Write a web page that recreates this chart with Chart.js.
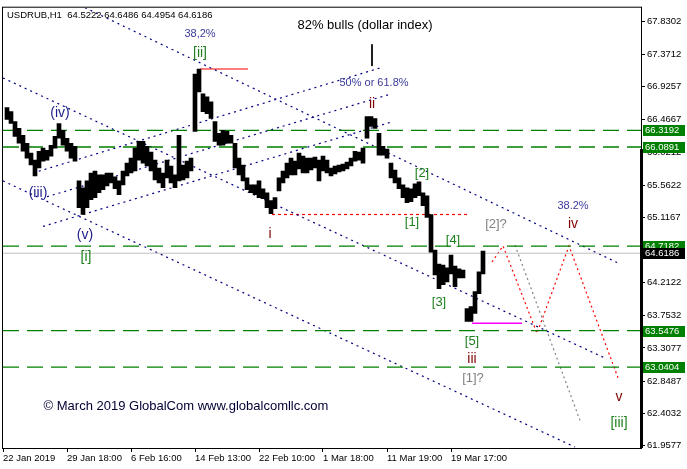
<!DOCTYPE html>
<html>
<head>
<meta charset="utf-8">
<script src="https://cdn.jsdelivr.net/npm/chart.js@4.4.1/dist/chart.umd.min.js"></script>
<style>
html, body { margin: 0; padding: 0; background: #fff; }
#wrap { width: 687px; height: 469px; position: relative; }
</style>
</head>
<body>
<div id="wrap"><canvas id="chart"></canvas></div>
<script>
// USDRUB H1 - price ranges, one entry every 4 hourly bars (bar 1 .. 120)
const highs = [
  66.634, 66.579, 66.442, 66.347, 66.251, 66.141, 66.004, 65.908, 66.031, 66.073,
  66.045, 66.114, 66.237, 66.415, 66.319, 66.210, 66.141, 66.100, 65.620, 65.525,
  65.620, 65.730, 65.757, 65.703, 65.703, 65.730, 65.730, 65.675, 65.620, 65.757,
  65.867, 65.936, 66.073, 66.168, 66.168, 66.100, 66.018, 65.908, 65.799, 65.730,
  65.908, 65.826, 65.703, 66.251, 65.840, 65.894, 65.936, 67.100, 67.169, 66.826,
  66.785, 66.716, 66.442, 66.278, 66.319, 66.305, 66.251, 66.141, 65.936, 65.840,
  65.662, 65.566, 65.566, 65.620, 65.511, 65.456, 65.346, 65.388, 65.662, 65.757,
  65.867, 65.936, 65.894, 66.004, 65.963, 65.936, 65.936, 65.949, 65.908, 65.963,
  65.908, 65.799, 65.826, 65.840, 65.853, 65.881, 65.936, 66.031, 66.018, 66.073,
  66.511, 66.511, 66.484, 66.278, 66.100, 66.059, 65.867, 65.771, 65.662, 65.566,
  65.525, 65.511, 65.579, 65.607, 65.456, 65.415, 65.155, 64.661, 64.470, 64.456,
  64.415, 64.593, 64.442, 64.401, 64.387, 63.853, 63.881, 64.086, 64.360, 64.649
];
const lows = [
  66.470, 66.415, 66.237, 66.141, 66.031, 65.936, 65.840, 65.689, 65.799, 65.894,
  65.908, 65.963, 66.073, 66.210, 66.114, 66.031, 65.936, 65.894, 65.251, 65.155,
  65.251, 65.360, 65.388, 65.456, 65.497, 65.552, 65.593, 65.511, 65.429, 65.566,
  65.689, 65.730, 65.757, 65.908, 65.867, 65.826, 65.757, 65.634, 65.593, 65.525,
  65.662, 65.593, 65.525, 65.620, 65.634, 65.662, 65.757, 66.305, 66.853, 66.579,
  66.552, 66.484, 66.168, 66.114, 66.114, 66.141, 66.141, 65.799, 65.703, 65.620,
  65.497, 65.456, 65.429, 65.388, 65.374, 65.251, 65.168, 65.237, 65.483, 65.593,
  65.662, 65.703, 65.703, 65.785, 65.730, 65.730, 65.771, 65.799, 65.620, 65.757,
  65.730, 65.689, 65.716, 65.744, 65.757, 65.785, 65.826, 65.894, 65.908, 65.867,
  66.210, 66.374, 66.347, 65.977, 65.977, 65.936, 65.662, 65.593, 65.511, 65.388,
  65.319, 65.333, 65.388, 65.415, 65.278, 65.114, 64.634, 64.319, 64.127, 64.182,
  64.223, 64.333, 64.155, 64.278, 64.278, 63.675, 63.675, 63.785, 64.059, 64.333
];

const timeTicks = [0, 16, 32, 48, 64, 80, 96, 112];
const timeLabels = ['22 Jan 2019', '29 Jan 18:00', '6 Feb 16:00', '14 Feb 13:00',
  '22 Feb 10:00', '1 Mar 18:00', '11 Mar 19:00', '19 Mar 17:00'];
const priceTicks = [67.8302, 67.3712, 66.9257, 66.4667, 66.0212, 65.5622, 65.1167,
  64.6577, 64.2122, 63.7532, 63.3077, 62.8487, 62.4032, 61.9577];

// horizontal levels
const greenLevels = [66.3192, 66.0891, 64.7182, 63.5476, 63.0404];
const bidPrice = 64.6186;

// trend lines: [bar, price] pairs
const channelTop = [[20.5, 68.018], [154.25, 64.470]];
const channelMid = [[0, 67.045], [151, 63.154]];
const channelLow = [[0, 65.620], [143, 61.935]];
const riseTop = [[7.5, 65.730], [95, 67.196]];
const riseMid = [[11, 65.401], [96.25, 66.812]];
const riseLow = [[10, 64.990], [96.75, 66.429]];
const grayPath = [[128, 64.730], [144.25, 62.305]];
const redPath = [[122.25, 64.497], [125, 64.72], [133.5, 63.511], [141.5, 64.72], [153.75, 62.894]];
const magentaLine = [[117.25, 63.648], [129.75, 63.648]];
const iiTopLine = [[49.25, 67.169], [61.25, 67.169]];
const iLevelLine = [[67.25, 65.155], [116, 65.155]];
const markerLine = [[92.25, 67.511], [92.25, 67.210]];

// wave labels: text, bar, price, colour, size
const NAVY = '#1c1c8a', PCT = '#3b3b9b', MAROON = '#800000', GREEN = '#1e801e', GRAY = '#808080';
const waveLabels = [
  ['38,2%', 49.25, 67.648, PCT, 11],
  ['[ii]', 49.25, 67.388, GREEN, 14],
  ['82% bulls (dollar index)', 90.5, 67.771, '#000000', 13],
  ['50% or 61.8%', 92.75, 66.977, PCT, 11],
  ['ii', 92.25, 66.689, MAROON, 14],
  ['(iv)', 14.25, 66.552, NAVY, 14],
  ['(iii)', 8.75, 65.456, NAVY, 14],
  ['(v)', 20.5, 64.867, NAVY, 14],
  ['[i]', 20.75, 64.566, GREEN, 14],
  ['i', 66.75, 64.881, MAROON, 14],
  ['[2]', 104.75, 65.730, GREEN, 13],
  ['[1]', 102.25, 65.045, GREEN, 13],
  ['[4]', 112.5, 64.798, GREEN, 13],
  ['[3]', 109, 63.935, GREEN, 13],
  ['[5]', 117.25, 63.401, GREEN, 13],
  ['iii', 117.25, 63.154, MAROON, 14],
  ['[1]?', 117.5, 62.880, GRAY, 13],
  ['[2]?', 123.25, 65.018, GRAY, 13],
  ['38.2%', 142.5, 65.278, PCT, 11],
  ['iv', 142.5, 65.018, MAROON, 14],
  ['v', 154, 62.620, MAROON, 14],
  ['[iii]', 154, 62.264, GREEN, 14],
  ['\u00a9 March 2019 GlobalCom www.globalcomllc.com', 45.75, 62.497, '#000033', 13]
];

const FONT = 'Liberation Sans, Arial, sans-serif';
const X_MAX = 159.5;

function toPts(arr) { return arr.map(p => ({ x: p[0], y: p[1] })); }

function lineSet(points, color, width, dash) {
  return {
    type: 'line', data: toPts(points), borderColor: color, borderWidth: width,
    borderDash: dash || [], pointRadius: 0, tension: 0, fill: false, order: 5
  };
}

const datasets = [
  {
    type: 'bar',
    data: lows.map((lo, i) => ({ x: i + 1, y: [lo, highs[i]] })),
    backgroundColor: '#000000',
    borderWidth: 0,
    barThickness: 4,
    order: 0
  }
];
greenLevels.forEach(v => datasets.push(lineSet([[0, v], [X_MAX, v]], '#008000', 1.3, [16, 8])));
datasets.push(lineSet([[0, bidPrice], [X_MAX, bidPrice]], '#c0c0c0', 1));
[channelTop, channelMid, channelLow, riseTop, riseMid, riseLow].forEach(l =>
  datasets.push(lineSet(l, '#000080', 1.2, [2, 4])));
datasets.push(lineSet(grayPath, '#808080', 1.2, [2, 3]));
datasets.push(lineSet(redPath, '#ff0000', 1.2, [2, 3]));
datasets.push(lineSet(iLevelLine, '#ff0000', 1.2, [3, 3]));
datasets.push(lineSet(iiTopLine, '#ff0000', 1.2));
datasets.push(lineSet(magentaLine, '#ff00ff', 1.5));
datasets.push(lineSet(markerLine, '#000000', 1));

const overlay = {
  id: 'overlay',
  beforeDatasetsDraw(chart) {
    const { ctx, chartArea: a } = chart;
    ctx.save();
    ctx.strokeStyle = '#000';
    ctx.lineWidth = 1;
    ctx.strokeRect(a.left - 0.5, a.top - 0.5, a.right - a.left + 1, a.bottom - a.top + 1);
    ctx.restore();
  },
  afterDatasetsDraw(chart) {
    const { ctx, scales: { x, y } } = chart;
    ctx.save();
    ctx.textAlign = 'center';
    ctx.textBaseline = 'middle';
    waveLabels.forEach(([t, bx, p, c, s]) => {
      ctx.font = s + 'px ' + FONT;
      ctx.fillStyle = c;
      ctx.fillText(t, x.getPixelForValue(bx), y.getPixelForValue(p));
    });
    ctx.restore();
  },
  afterDraw(chart) {
    const { ctx, chartArea: a, scales: { y } } = chart;
    ctx.save();
    // thick right edge
    const yt = y.getPixelForValue(66.06);
    ctx.fillStyle = '#000';
    ctx.fillRect(a.right - 1, yt, 3, a.bottom - yt);
    // header
    ctx.font = '9.5px ' + FONT;
    ctx.textAlign = 'left';
    ctx.textBaseline = 'middle';
    ctx.fillText('USDRUB,H1  64.5222 64.6486 64.4954 64.6186', a.left + 4, a.top + 8);
    // price boxes
    const boxes = greenLevels.map(v => [v, '#008000']).concat([[bidPrice, '#000000']]);
    boxes.forEach(([v, bg]) => {
      const py = Math.round(y.getPixelForValue(v));
      ctx.fillStyle = bg;
      ctx.fillRect(a.right + 2, py - 5, 42, 11);
      ctx.fillStyle = '#fff';
      ctx.fillText(v.toFixed(4), a.right + 4, py + 0.5);
    });
    ctx.restore();
  }
};

new Chart(document.getElementById('chart'), {
  type: 'bar',
  data: { datasets },
  plugins: [overlay],
  options: {
    responsive: true,
    maintainAspectRatio: false,
    animation: false,
    layout: { padding: { left: 3, top: 3, right: 0, bottom: 0 } },
    plugins: { legend: { display: false }, tooltip: { enabled: false } },
    scales: {
      x: {
        type: 'linear', min: 0, max: X_MAX, offset: false,
        afterBuildTicks: s => { s.ticks = timeTicks.map(v => ({ value: v })); },
        afterFit: s => { s.height = 21; },
        ticks: {
          callback: (v, i) => timeLabels[i], align: 'start', maxRotation: 0, autoSkip: false,
          padding: 1, color: '#000', font: { family: FONT, size: 9.5 }
        },
        grid: { drawOnChartArea: false, offset: false, tickLength: 4, color: '#000' },
        border: { display: true, color: '#000' }
      },
      y: {
        position: 'right', min: 61.922, max: 68.018,
        afterBuildTicks: s => { s.ticks = priceTicks.map(v => ({ value: v })); },
        afterFit: s => { s.width = 46; },
        ticks: {
          callback: v => v.toFixed(4), autoSkip: false, padding: 2, color: '#000',
          font: { family: FONT, size: 9.5 }
        },
        grid: { drawOnChartArea: false, tickLength: 4, color: '#000' },
        border: { display: true, color: '#000' }
      }
    }
  }
});
</script>
</body>
</html>
